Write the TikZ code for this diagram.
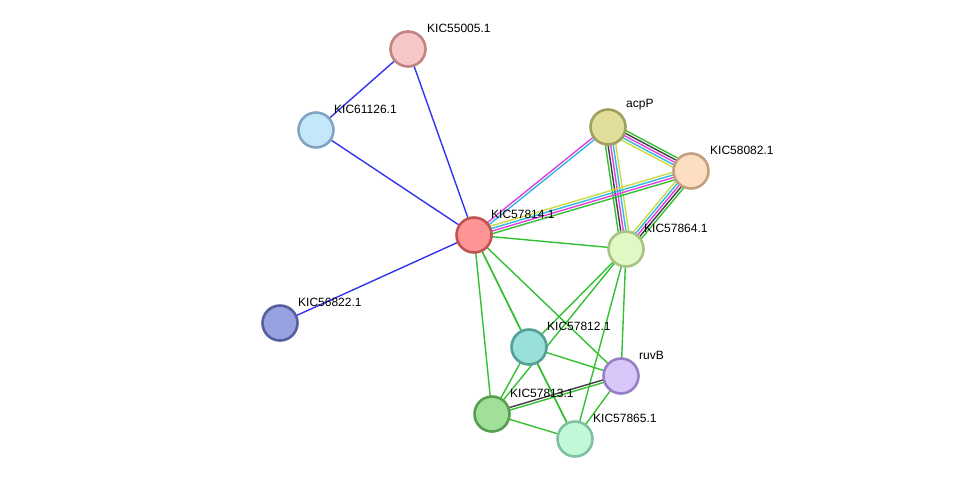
\documentclass[tikz,border=0pt]{standalone}
\usepackage{fontspec}
\setmainfont{Liberation Sans}
\usetikzlibrary{calc}
\definecolor{ecBlue}{HTML}{3333F0}
\definecolor{ecGreen}{HTML}{33C033}
\definecolor{ecCyan}{HTML}{30B8E0}
\definecolor{ecMag}{HTML}{E040E0}
\definecolor{ecYel}{HTML}{C8DC40}
\definecolor{ecBlk}{HTML}{404040}
\definecolor{fA}{HTML}{F8C8C8}\definecolor{dA}{HTML}{C08484}
\definecolor{fB}{HTML}{C2E8FA}\definecolor{dB}{HTML}{84A4C4}
\definecolor{fC}{HTML}{FF9494}\definecolor{dC}{HTML}{C05454}
\definecolor{fD}{HTML}{98A2E0}\definecolor{dD}{HTML}{5660A0}
\definecolor{fE}{HTML}{E0DE98}\definecolor{dE}{HTML}{A0A060}
\definecolor{fF}{HTML}{FDDEC0}\definecolor{dF}{HTML}{C4A080}
\definecolor{fG}{HTML}{E0F8C4}\definecolor{dG}{HTML}{A8C484}
\definecolor{fH}{HTML}{98E0D8}\definecolor{dH}{HTML}{54A098}
\definecolor{fI}{HTML}{D8C8FA}\definecolor{dI}{HTML}{9880C8}
\definecolor{fJ}{HTML}{A0E098}\definecolor{dJ}{HTML}{58A050}
\definecolor{fK}{HTML}{C0F8D8}\definecolor{dK}{HTML}{80C0A0}
\tikzset{
  prot/.style n args={2}{circle, draw=#2, fill=#1, line width=2.6pt, minimum size=35pt, inner sep=0pt},
  lab/.style={font=\fontsize{12}{12}\selectfont, anchor=south west, inner sep=0pt},
  edge/.style={line width=1.4pt}
}
% multi-coloured link between two proteins (#3 = number of colours)
\newcommand{\multilink}[4]{%
  \foreach \col [count=\i] in {#4} {
    \pgfmathsetmacro{\off}{(\i-1-(#3-1)/2)*2.6}
    \draw[edge, \col] ($(#1)!\off pt!90:(#2)$) -- ($(#2)!\off pt!-90:(#1)$);
  }}
\begin{document}
\begin{tikzpicture}[x=1pt, y=-1pt]
  \useasboundingbox (0,0) rectangle (976,485);
  % nodes
  \coordinate (p55005) at (408,49);
  \coordinate (p61126) at (316,130);
  \coordinate (p57814) at (474,235);
  \coordinate (p56822) at (280,323);
  \coordinate (pacpP) at (608,127);
  \coordinate (p58082) at (691,171);
  \coordinate (p57864) at (626,249);
  \coordinate (p57812) at (529,347);
  \coordinate (pruvB) at (621,376);
  \coordinate (p57813) at (492,414);
  \coordinate (p57865) at (575,439);
  % links
  \foreach \a/\b in {55005/61126, 55005/57814, 61126/57814, 56822/57814}
    \draw[edge, ecBlue] (p\a) -- (p\b);
  \foreach \a/\b in {57814/57864, 57814/57812, 57814/57813, 57814/57865, 57814/ruvB,
                     57864/57812, 57864/57813, 57864/ruvB, 57864/57865,
                     57812/ruvB, 57812/57813, 57812/57865, 57813/57865, ruvB/57865}
    \draw[edge, ecGreen] (p\a) -- (p\b);
  \multilink{pacpP}{p57814}{2}{ecMag,ecCyan}
  \multilink{pacpP}{p58082}{5}{ecYel,ecCyan,ecMag,ecBlk,ecGreen}
  \multilink{pacpP}{p57864}{5}{ecGreen,ecBlk,ecMag,ecCyan,ecYel}
  \multilink{p58082}{p57814}{4}{ecYel,ecCyan,ecMag,ecGreen}
  \multilink{p58082}{p57864}{5}{ecYel,ecCyan,ecMag,ecBlk,ecGreen}
  \multilink{p57813}{pruvB}{2}{ecGreen,ecBlk}
  % proteins
  \node[prot={fA}{dA}] (n55005) at (p55005) {};
  \node[prot={fB}{dB}] (n61126) at (p61126) {};
  \node[prot={fC}{dC}] (n57814) at (p57814) {};
  \node[prot={fD}{dD}] (n56822) at (p56822) {};
  \node[prot={fE}{dE}] (nacpP) at (pacpP) {};
  \node[prot={fF}{dF}] (n58082) at (p58082) {};
  \node[prot={fG}{dG}] (n57864) at (p57864) {};
  \node[prot={fH}{dH}] (n57812) at (p57812) {};
  \node[prot={fI}{dI}] (nruvB) at (pruvB) {};
  \node[prot={fJ}{dJ}] (n57813) at (p57813) {};
  \node[prot={fK}{dK}] (n57865) at (p57865) {};
  % labels
  \node[lab] at (427,33) {KIC55005.1};
  \node[lab] at (334,114) {KIC61126.1};
  \node[lab] at (491,219) {KIC57814.1};
  \node[lab] at (298,307) {KIC56822.1};
  \node[lab] at (626,110) {acpP};
  \node[lab] at (710,155) {KIC58082.1};
  \node[lab] at (644,233) {KIC57864.1};
  \node[lab] at (547,331) {KIC57812.1};
  \node[lab] at (639,360) {ruvB};
  \node[lab] at (510,398) {KIC57813.1};
  \node[lab] at (593,423) {KIC57865.1};
\end{tikzpicture}
\end{document}
